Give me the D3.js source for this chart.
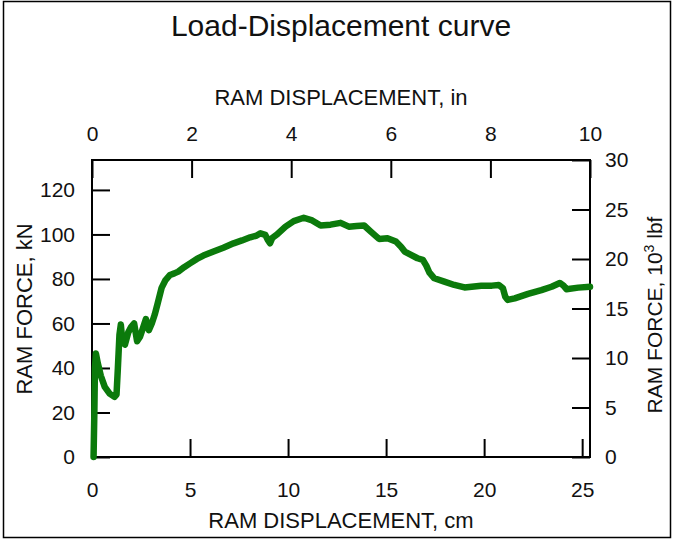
<!DOCTYPE html>
<html>
<head>
<meta charset="utf-8">
<script src="https://cdn.jsdelivr.net/npm/d3@7"></script>
<style>
  html, body { margin: 0; padding: 0; background: #fff; }
  svg { display: block; }
  text { font-family: "Liberation Sans", Arial, sans-serif; fill: #111; }
</style>
</head>
<body>
<svg id="chart" width="674" height="541"></svg>
<script>
// ---- data ----
const dispCm = [0.08, 0.12, 0.15, 0.2, 0.3, 0.45, 0.65, 0.9, 1.15, 1.25, 1.32, 1.4, 1.47, 1.55, 1.68, 1.85, 2.0, 2.15, 2.3, 2.45, 2.6, 2.75, 2.9, 3.05, 3.2, 3.35, 3.55, 3.75, 3.98, 4.2, 4.4, 4.7, 5.0, 5.35, 5.68, 6.2, 6.7, 7.22, 7.65, 8.07, 8.4, 8.59, 8.84, 8.97, 9.08, 9.2, 9.44, 9.87, 10.29, 10.8, 11.23, 11.66, 12.17, 12.68, 13.1, 13.5, 13.88, 14.22, 14.64, 15.07, 15.5, 15.76, 15.95, 16.27, 16.6, 16.87, 17.05, 17.2, 17.46, 17.97, 18.48, 19.0, 19.85, 20.4, 20.75, 20.96, 21.08, 21.2, 21.56, 22.24, 22.92, 23.44, 23.86, 24.05, 24.2, 24.8, 25.4];
const forceKN = [0, 20, 40, 46.5, 42, 36.5, 31.5, 28.5, 27, 28, 40, 55, 59.5, 52, 50.5, 56, 58.5, 60, 52, 54, 58, 62, 57, 60, 64, 69, 76, 79.5, 81.8, 82.5, 83.3, 85.3, 87, 89, 90.5, 92.3, 94, 96, 97.3, 98.7, 99.5, 100.5, 99.8, 97.5, 96, 98.5, 100, 103.5, 106, 107.5, 106.3, 104, 104.4, 105.2, 103.5, 103.8, 104, 101.3, 98, 98.3, 96.8, 94.5, 92.3, 90.8, 89.3, 88.6, 86, 83, 80.3, 78.8, 77.3, 76.2, 76.9, 77, 77.3, 75.8, 72, 70.6, 71.3, 73.3, 75, 76.5, 78.2, 77, 75.4, 76.1, 76.5];

const cmTicks = [0, 5, 10, 15, 20, 25];
const inTicks = [0, 2, 4, 6, 8, 10];
const kNTicks = [0, 20, 40, 60, 80, 100, 120];
const lbfTicks = [0, 5, 10, 15, 20, 25, 30];

const titleText = "Load-Displacement curve";
const bottomLabel = "RAM DISPLACEMENT, cm";
const topLabel = "RAM DISPLACEMENT, in";
const leftLabel = "RAM FORCE, kN";

// ---- layout ----
const L = 92, R = 590, T = 160, B = 457;
const KN_PER_KLBF = 4.44822;
const CM_PER_IN = 2.54;

const svg = d3.select("#chart");

svg.append("rect")
  .attr("x", 3.5).attr("y", 1.5).attr("width", 667).attr("height", 536)
  .attr("fill", "none").attr("stroke", "#000").attr("stroke-width", 1.5);

const xCm = d3.scaleLinear().domain([0, 10 * CM_PER_IN]).range([L, R]);
const xIn = d3.scaleLinear().domain([0, 10]).range([L, R]);
const yKN = d3.scaleLinear().domain([0, 30 * KN_PER_KLBF]).range([B, T]);
const yLbf = d3.scaleLinear().domain([0, 30]).range([B, T]);

const tickFont = 21, labelFont = 22;

function styleAxis(g) {
  g.select(".domain").remove();
  g.selectAll(".tick line").attr("stroke", "#000").attr("stroke-width", 2);
  g.selectAll(".tick text").attr("font-size", tickFont)
    .attr("font-family", "'Liberation Sans', Arial, sans-serif").attr("fill", "#111");
}

svg.append("g").attr("transform", `translate(0,${B})`)
  .call(d3.axisBottom(xCm).tickValues(cmTicks).tickSize(-18).tickPadding(25).tickFormat(d3.format("d")))
  .call(styleAxis);
svg.append("g").attr("transform", `translate(0,${T})`)
  .call(d3.axisTop(xIn).tickValues(inTicks).tickSize(-18).tickPadding(19).tickFormat(d3.format("d")))
  .call(styleAxis);
svg.append("g").attr("transform", `translate(${L},0)`)
  .call(d3.axisLeft(yKN).tickValues(kNTicks).tickSize(-18).tickPadding(17).tickFormat(d3.format("d")))
  .call(styleAxis);
svg.append("g").attr("transform", `translate(${R},0)`)
  .call(d3.axisRight(yLbf).tickValues(lbfTicks).tickSize(-18).tickPadding(15).tickFormat(d3.format("d")))
  .call(styleAxis);

// plot frame
svg.append("rect")
  .attr("x", L).attr("y", T).attr("width", R - L).attr("height", B - T)
  .attr("fill", "none").attr("stroke", "#000").attr("stroke-width", 2);

// curve
const pts = dispCm.map((d, i) => [d, forceKN[i]]);
svg.append("path")
  .datum(pts)
  .attr("fill", "none")
  .attr("stroke", "#0b7a0b")
  .attr("stroke-width", 6.5)
  .attr("stroke-linejoin", "round")
  .attr("stroke-linecap", "round")
  .attr("d", d3.line().x(d => xCm(d[0])).y(d => yKN(d[1])));

// titles
svg.append("text").attr("x", 341).attr("y", 36).attr("text-anchor", "middle")
  .attr("font-size", 30).text(titleText);
svg.append("text").attr("x", 341).attr("y", 105).attr("text-anchor", "middle")
  .attr("font-size", labelFont).text(topLabel);
svg.append("text").attr("x", 341).attr("y", 528).attr("text-anchor", "middle")
  .attr("font-size", labelFont).text(bottomLabel);
svg.append("text").attr("transform", "translate(32,309) rotate(-90)")
  .attr("text-anchor", "middle").attr("font-size", labelFont).text(leftLabel);

const rl = svg.append("text").attr("transform", "translate(662,315) rotate(-90)")
  .attr("text-anchor", "middle").attr("font-size", 21);
rl.append("tspan").text("RAM FORCE, 10");
rl.append("tspan").attr("dy", -8).attr("font-size", 14).text("3");
rl.append("tspan").attr("dy", 8).text(" lbf");
</script>
</body>
</html>
